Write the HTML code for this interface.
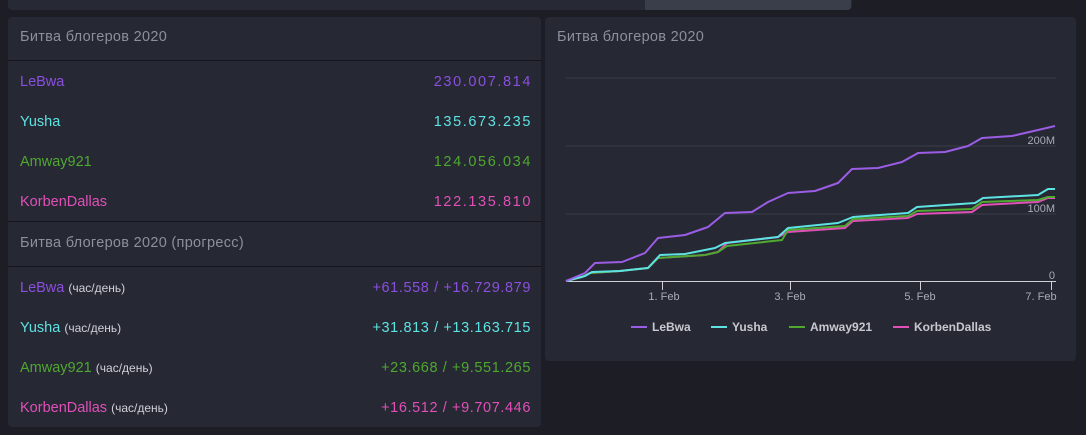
<!DOCTYPE html>
<html><head><meta charset="utf-8"><style>
body{margin:0;width:1086px;height:435px;background:#1c1d25;font-family:"Liberation Sans","Noto Sans CJK SC",sans-serif;position:relative;overflow:hidden}
.p{position:absolute;background:#262833;border-radius:4px}
.t{position:absolute;font-size:14.5px;color:#8d8f9c;letter-spacing:0.3px}
.r{position:absolute;font-size:14.5px}
.v{letter-spacing:1.6px}
.w{letter-spacing:0.6px}
.s{font-size:12px;color:#d0d0d8}
.hr{position:absolute;height:1px;background:#15161c}
</style></head><body>
<div class="p" style="left:8px;top:-5px;width:844px;height:15px;background:#272a35"></div>
<div style="position:absolute;left:645px;top:0;width:206px;height:10px;background:#3a3d4a;border-radius:0 0 4px 0"></div>
<div class="p" style="left:8px;top:17px;width:533px;height:410px"></div>
<div class="p" style="left:545px;top:17px;width:531px;height:344px"></div>
<div class="t" style="left:20px;top:29px">Битва блогеров 2020</div>
<div class="hr" style="left:8px;top:60px;width:533px"></div>
<div class="r" style="left:20px;top:74px;color:#8b4fe0">LeBwa</div><div class="r v" style="right:554px;top:74px;color:#8b4fe0">230.007.814</div>
<div class="r" style="left:20px;top:114px;color:#5ee3e3">Yusha</div><div class="r v" style="right:554px;top:114px;color:#5ee3e3">135.673.235</div>
<div class="r" style="left:20px;top:154px;color:#4fa830">Amway921</div><div class="r v" style="right:554px;top:154px;color:#4fa830">124.056.034</div>
<div class="r" style="left:20px;top:194px;color:#e050b8">KorbenDallas</div><div class="r v" style="right:554px;top:194px;color:#e050b8">122.135.810</div>
<div class="hr" style="left:8px;top:221px;width:533px"></div>
<div class="t" style="left:20px;top:235px">Битва блогеров 2020 (прогресс)</div>
<div class="hr" style="left:8px;top:266px;width:533px"></div>
<div class="r" style="left:20px;top:280px;color:#8b4fe0">LeBwa <span class="s">(час/день)</span></div><div class="r w" style="right:555px;top:280px;color:#8b4fe0">+61.558 / +16.729.879</div>
<div class="r" style="left:20px;top:320px;color:#5ee3e3">Yusha <span class="s">(час/день)</span></div><div class="r w" style="right:555px;top:320px;color:#5ee3e3">+31.813 / +13.163.715</div>
<div class="r" style="left:20px;top:360px;color:#4fa830">Amway921 <span class="s">(час/день)</span></div><div class="r w" style="right:555px;top:360px;color:#4fa830">+23.668 / +9.551.265</div>
<div class="r" style="left:20px;top:400px;color:#e050b8">KorbenDallas <span class="s">(час/день)</span></div><div class="r w" style="right:555px;top:400px;color:#e050b8">+16.512 / +9.707.446</div>
<div class="t" style="left:557px;top:29px">Битва блогеров 2020</div>
<svg style="position:absolute;left:0;top:0" width="1086" height="435" font-family="Liberation Sans, sans-serif">
<g stroke="#3a3c48" stroke-width="1"><line x1="566" y1="78" x2="1056" y2="78"/><line x1="566" y1="146" x2="1056" y2="146"/><line x1="566" y1="214" x2="1056" y2="214"/></g>
<line x1="566" y1="281.5" x2="1056" y2="281.5" stroke="#cfd0d6"/>
<g stroke="#cfd0d6"><line x1="662.5" y1="281" x2="662.5" y2="290"/><line x1="790.5" y1="281" x2="790.5" y2="290"/><line x1="920.5" y1="281" x2="920.5" y2="290"/><line x1="1051.5" y1="281" x2="1051.5" y2="290"/></g>
<g fill="#a9abb5" font-size="11" text-anchor="end"><text x="1055" y="144">200M</text><text x="1055" y="212">100M</text><text x="1055" y="279">0</text></g>
<g fill="#a9abb5" font-size="11" text-anchor="middle"><text x="664" y="300">1. Feb</text><text x="790" y="300">3. Feb</text><text x="920" y="300">5. Feb</text><text x="1041" y="300">7. Feb</text></g>
<g fill="none" stroke-width="2" stroke-linejoin="round">
<polyline stroke="#e050b8" points="566,281 582,277 590,273 620,271 648,268 658,258 705,255 718,252 727,243 778,237 788,232 845,228 853,221 908,218 917,214 972,212 982,205 1038,202 1048,198 1055,198"/>
<polyline stroke="#4fa830" points="566,281 582,277 590,273 620,271 648,268 658,258 705,255 718,252 727,246 782,240 788,230 845,226 853,219 908,216 917,211 972,209 982,202 1038,200 1048,197 1055,197"/>
<polyline stroke="#5ee3e3" points="566,281 585,276 592,272 620,271 648,268 660,255 685,254 715,248 725,243 778,237 788,228 838,223 853,217 908,213 917,207 975,203 983,198 1038,195 1048,189 1055,189"/>
<polyline stroke="#9b5de5" points="566,281 585,273 595,263 622,262 645,253 658,238 685,235 708,227 725,213 752,212 768,202 788,193 815,191 838,183 852,169 878,168 902,162 918,153 945,152 968,146 982,138 1012,136 1038,130 1055,126"/>
</g>
<g font-size="12" font-weight="bold" fill="#c8c9d0">
<line x1="631" y1="327" x2="647" y2="327" stroke="#9b5de5" stroke-width="2"/><text x="652" y="331">LeBwa</text>
<line x1="711" y1="327" x2="727" y2="327" stroke="#5ee3e3" stroke-width="2"/><text x="732" y="331">Yusha</text>
<line x1="789" y1="327" x2="805" y2="327" stroke="#4fa830" stroke-width="2"/><text x="810" y="331">Amway921</text>
<line x1="893" y1="327" x2="909" y2="327" stroke="#e050b8" stroke-width="2"/><text x="914" y="331">KorbenDallas</text>
</g>
</svg>
</body></html>
